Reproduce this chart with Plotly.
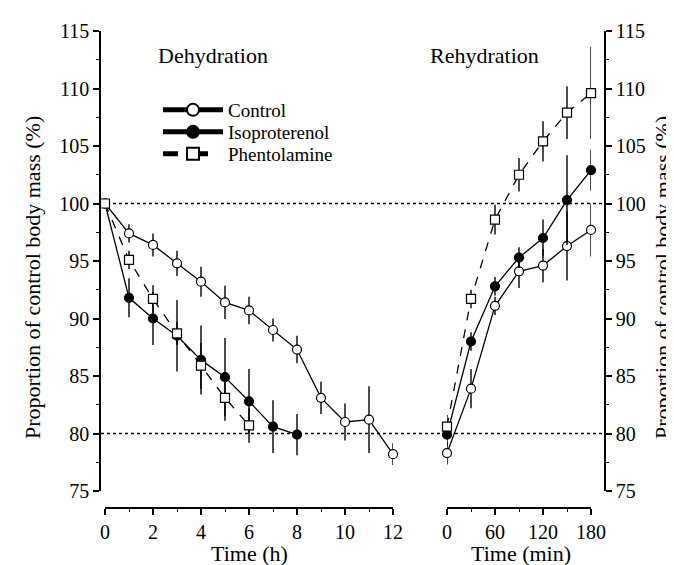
import plotly.graph_objects as go

# ---------------- data ----------------
dehyd_hours_control = [0, 1, 2, 3, 4, 5, 6, 7, 8, 9, 10, 11, 12]
dehyd_control = [100, 97.4, 96.4, 94.8, 93.2, 91.4, 90.7, 89.0, 87.3, 83.1, 81.0, 81.2, 78.2]
dehyd_control_err = [0, 0.8, 1.0, 1.1, 1.3, 1.45, 1.2, 1.0, 1.2, 1.4, 1.6, 2.9, 0.95]

dehyd_hours_iso = [0, 1, 2, 3, 4, 5, 6, 7, 8]
dehyd_iso = [100, 91.8, 90.0, 88.5, 86.4, 84.9, 82.8, 80.6, 79.9]
dehyd_iso_err = [0, 1.7, 2.3, 3.1, 3.0, 3.4, 2.8, 2.3, 1.8]

dehyd_hours_phen = [0, 1, 2, 3, 4, 5, 6]
dehyd_phen = [100, 95.1, 91.7, 88.7, 85.9, 83.1, 80.7]
dehyd_phen_err = [0, 0.8, 1.2, 1.0, 2.0, 2.0, 1.5]

rehyd_min = [0, 30, 60, 90, 120, 150, 180]
rehyd_control = [78.3, 83.9, 91.1, 94.1, 94.6, 96.3, 97.7]
rehyd_control_err = [1.0, 1.7, 0.8, 1.45, 1.45, 3.0, 2.3]
rehyd_iso = [79.9, 88.0, 92.8, 95.3, 97.0, 100.3, 102.9]
rehyd_iso_err = [1.0, 0.8, 0.8, 0.9, 1.6, 3.9, 1.8]
rehyd_phen = [80.6, 91.7, 98.6, 102.5, 105.4, 107.9, 109.6]
rehyd_phen_err = [1.0, 0.8, 1.3, 1.45, 1.75, 2.3, 4.0]

series_names = ["Control", "Isoproterenol", "Phentolamine"]
y_ticks = [75, 80, 85, 90, 95, 100, 105, 110, 115]
h_ticks = [0, 2, 4, 6, 8, 10, 12]
min_ticks = [0, 60, 120, 180]
ref_levels = [100, 80]

# ---------------- layout helpers ----------------
W, H = 674, 565
FONT = "Liberation Serif"


def px(x):
    return x / W


def py(y):
    return 1 - y / H


styles = {
    "Control": dict(symbol="circle", color="white", dash="solid", legend="legend", row=102),
    "Isoproterenol": dict(symbol="circle", color="black", dash="solid", legend="legend2", row=124),
    "Phentolamine": dict(symbol="square", color="white", dash="dash", legend="legend3", row=146),
}

fig = go.Figure()


def add(x, y, err, name, xa, ya, show):
    st = styles[name]
    fig.add_trace(go.Scatter(
        x=x, y=y, name=name, mode="lines+markers",
        xaxis=xa, yaxis=ya, showlegend=show, legend=st["legend"], cliponaxis=False,
        line=dict(color="black", width=1.3, dash=st["dash"]),
        marker=dict(symbol=st["symbol"], size=9, color=st["color"],
                    line=dict(color="black", width=1.2)),
        error_y=dict(type="data", array=err, visible=True, width=0,
                     thickness=1.4, color="black"),
    ))


add(dehyd_hours_control, dehyd_control, dehyd_control_err, "Control", "x", "y", True)
add(dehyd_hours_iso, dehyd_iso, dehyd_iso_err, "Isoproterenol", "x", "y", True)
add(dehyd_hours_phen, dehyd_phen, dehyd_phen_err, "Phentolamine", "x", "y", True)
add(rehyd_min, rehyd_control, rehyd_control_err, "Control", "x2", "y2", False)
add(rehyd_min, rehyd_iso, rehyd_iso_err, "Isoproterenol", "x2", "y2", False)
add(rehyd_min, rehyd_phen, rehyd_phen_err, "Phentolamine", "x2", "y2", False)

tickfont = dict(family=FONT, size=20, color="black")
ydom = [py(483), py(23)]

common_axis = dict(showgrid=False, zeroline=False, showline=True, linecolor="black",
                   linewidth=1.5, ticks="outside", tickcolor="black", tickwidth=1.5,
                   ticklen=6, tickfont=tickfont, automargin=False)


def legend_box(name):
    return dict(x=px(150), y=py(styles[name]["row"]), xanchor="left", yanchor="middle",
                font=dict(family=FONT, size=19, color="black"), itemwidth=60,
                bgcolor="rgba(0,0,0,0)", itemsizing="constant")


fig.update_layout(
    width=W, height=H,
    margin=dict(l=0, r=0, t=0, b=0),
    paper_bgcolor="white", plot_bgcolor="white",
    font=dict(family=FONT, color="black"),
    xaxis=dict(domain=[px(97), px(385)], range=[0, 12], anchor="free",
               position=py(500), tickvals=h_ticks,
               minor=dict(dtick=1, ticks="outside", ticklen=3, tickcolor="black", tickwidth=1.2),
               **common_axis),
    yaxis=dict(domain=ydom, range=[75, 115], anchor="free", position=px(92),
               tickvals=y_ticks,
               minor=dict(dtick=2.5, ticks="outside", ticklen=3, tickcolor="black", tickwidth=1.2),
               **common_axis),
    xaxis2=dict(domain=[px(439), px(583)], range=[0, 180], anchor="free",
                position=py(500), tickvals=min_ticks,
                minor=dict(dtick=30, ticks="outside", ticklen=3, tickcolor="black", tickwidth=1.2),
                **common_axis),
    yaxis2=dict(domain=ydom, range=[75, 115], anchor="free", position=px(597),
                side="right", tickvals=y_ticks,
                minor=dict(dtick=2.5, ticks="outside", ticklen=3, tickcolor="black", tickwidth=1.2),
                **common_axis),
    legend=legend_box("Control"),
    legend2=legend_box("Isoproterenol"),
    legend3=legend_box("Phentolamine"),
)

for lvl in ref_levels:
    fig.add_shape(type="line", xref="paper", yref="y", x0=px(93), x1=px(596),
                  y0=lvl, y1=lvl, line=dict(color="black", width=1.5, dash="dot"),
                  layer="below")

ann_font = dict(family=FONT, size=22, color="black")


def label(text, x, y, angle=0):
    fig.add_annotation(text=text, x=px(x), y=py(y), xref="paper", yref="paper",
                       xanchor="center", yanchor="middle", showarrow=False,
                       textangle=angle, font=ann_font, borderpad=0)


label("Dehydration", 205, 47)
label("Rehydration", 476, 47)
label("Time (h)", 241, 545)
label("Time (min)", 513, 545)
ytitle = "Proportion of control body mass (%)"
label(ytitle, 24, 270, -90)
label(ytitle, 654, 270, -90)

fig.write_html("out.html")
